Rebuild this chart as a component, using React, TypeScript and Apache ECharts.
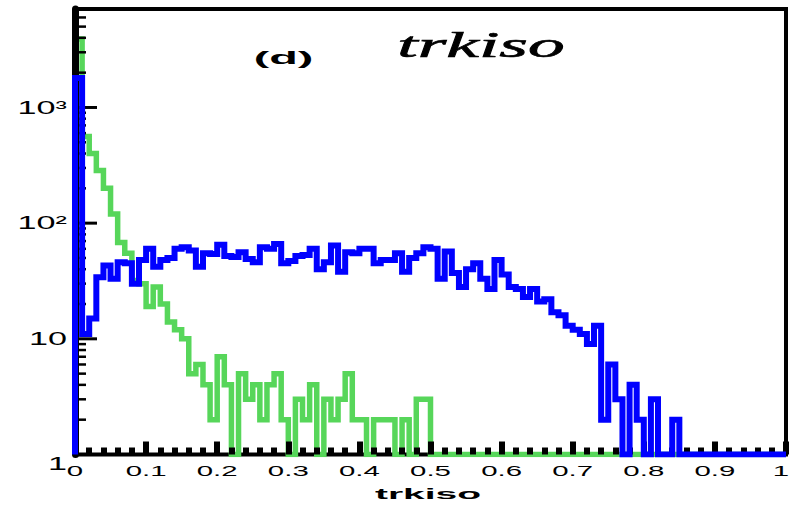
import React, { useEffect, useRef } from "react";
import * as echarts from "echarts";

// ---- data ----
const BIN_WIDTH = 0.01;

const blueCounts = [
  1800, 11, 15, 34, 43, 33, 46, 45, 30, 48,
  60, 42, 48, 50, 60, 62, 58, 42, 55, 54,
  65, 52, 51, 56, 49, 46, 62, 60, 66, 45,
  47, 52, 53, 60, 40, 46, 64, 38, 56, 55,
  60, 60, 45, 48, 48, 55, 38, 50, 55, 62,
  60, 33, 57, 37, 28, 40, 45, 33, 27, 48,
  36, 28, 27, 23, 27, 21, 22, 17, 16, 13,
  12, 11, 9, 13, 2, 6, 3, 0, 4, 2,
  0, 3, 0, 0, 2, 0, 0, 0, 0, 0,
  0, 0, 0, 0, 0, 0, 0, 0, 0, 0,
];

const greenCounts = [
  3900, 560, 400, 285, 200, 120, 68, 55, 32, 30,
  19, 28, 20, 14, 12, 10, 5, 6, 4, 2,
  7, 4, 0, 5, 3, 4, 2, 4, 5, 2,
  0, 3, 2, 4, 1, 3, 2, 3, 5, 2,
  2, 1, 2, 2, 2, 1, 2, 1, 3, 3,
  0, 0, 0, 0, 0, 0, 0, 0, 0, 0,
  0, 0, 0, 0, 0, 0, 0, 0, 0, 0,
  0, 0, 0, 0, 0, 0, 0, 0, 0, 0,
  0, 0, 0, 0, 0, 0, 0, 0, 0, 0,
  0, 0, 0, 0, 0, 0, 0, 0, 0, 0,
];

const xTickValues = [0, 0.1, 0.2, 0.3, 0.4, 0.5, 0.6, 0.7, 0.8, 0.9, 1];
const xTickLabels = ["0", "0.1", "0.2", "0.3", "0.4", "0.5", "0.6", "0.7", "0.8", "0.9", "1"];
const yLabelValues = [1, 10, 100, 1000];
const yLabelTexts = ["1", "10", "10²", "10³"];
const yMajorTicks = [10, 100, 1000];
const yMinorTicks = [
  2, 3, 4, 5, 6, 7, 8, 9,
  20, 30, 40, 50, 60, 70, 80, 90,
  200, 300, 400, 500, 600, 700, 800, 900,
  2000, 3000, 4000, 5000, 6000, 7000,
];
const Y_MIN = 1;
const Y_MAX = 7100;

const titleTag = "(d)";
const titleVar = "trkiso";
const xAxisTitle = "trkiso";

function histPoints(counts: number[]): number[][] {
  const pts: number[][] = [[0, Y_MIN]];
  counts.forEach((c, i) => {
    pts.push([Math.round(i * BIN_WIDTH * 100) / 100, Math.max(c, Y_MIN)]);
  });
  pts.push([counts.length * BIN_WIDTH, Math.max(counts[counts.length - 1], Y_MIN)]);
  return pts;
}

export default function App() {
  const ref = useRef<HTMLDivElement>(null);

  useEffect(() => {
    if (!ref.current) return;
    const chart = echarts.init(ref.current, undefined, { renderer: "svg" });

    const tickSeries = (values: number[], len: number, width: number) => ({
      type: "custom",
      z: 2,
      silent: true,
      data: values.map((v) => [0, v]),
      renderItem: (_params: any, api: any) => {
        const p = api.coord([0, api.value(1)]);
        return {
          type: "line",
          shape: { x1: p[0], y1: p[1], x2: p[0] + len, y2: p[1] },
          style: { stroke: "#000", lineWidth: width },
        };
      },
    });

    chart.setOption({
      animation: false,
      backgroundColor: "#fff",
      grid: {
        left: 75,
        right: 4,
        top: 9,
        bottom: 50.5,
        show: true,
        borderColor: "#000",
        borderWidth: 4,
        backgroundColor: "transparent",
      },
      xAxis: {
        type: "value",
        min: 0,
        max: 1,
        interval: 0.1,
        z: 2,
        axisLine: { show: false },
        axisTick: { show: true, inside: true, length: 13, lineStyle: { color: "#000", width: 6 } },
        minorTick: { show: true, splitNumber: 5, length: 7, lineStyle: { color: "#000", width: 6 } },
        axisLabel: { show: false },
        splitLine: { show: false },
      },
      yAxis: {
        type: "log",
        logBase: 10,
        min: Y_MIN,
        max: Y_MAX,
        z: 2,
        axisLine: { show: true, lineStyle: { color: "#000", width: 7 } },
        axisTick: { show: false },
        minorTick: { show: false },
        axisLabel: { show: false },
        splitLine: { show: false },
      },
      series: [
        {
          type: "line",
          step: "end",
          z: 1,
          symbol: "none",
          clip: true,
          data: histPoints(greenCounts),
          lineStyle: { color: "#57d65a", width: 5.5, join: "miter", cap: "butt" },
        },
        tickSeries(yMinorTicks, 11, 2.5),
        tickSeries(yMajorTicks, 22, 3),
        {
          type: "line",
          step: "end",
          z: 3,
          symbol: "none",
          clip: true,
          data: histPoints(blueCounts),
          lineStyle: { color: "#0000ff", width: 6, join: "miter", cap: "butt" },
        },
        {
          type: "custom",
          z: 4,
          silent: true,
          data: xTickValues.map((v) => [v, Y_MIN]),
          renderItem: (params: any, api: any) => {
            const p = api.coord([api.value(0), Y_MIN]);
            return {
              type: "text",
              x: Math.min(p[0], 781),
              y: p[1] + 17,
              scaleX: 2.1,
              style: {
                text: xTickLabels[params.dataIndex],
                fill: "#000",
                font: '14px "Liberation Sans"',
                align: "center",
                verticalAlign: "middle",
              },
            };
          },
        },
        {
          type: "custom",
          z: 4,
          silent: true,
          data: yLabelValues.map((v) => [0, v]),
          renderItem: (params: any, api: any) => {
            const v = api.value(1);
            const p = api.coord([0, v]);
            return {
              type: "text",
              x: p[0] - 8,
              y: p[1] + (v === Y_MIN ? 9 : 0),
              scaleX: 1.9,
              style: {
                text: yLabelTexts[params.dataIndex],
                fill: "#000",
                font: '18px "Liberation Sans"',
                align: "right",
                verticalAlign: "middle",
              },
            };
          },
        },
      ],
      graphic: [
        {
          type: "text",
          x: 283.5,
          y: 57.5,
          scaleX: 2.6,
          z: 10,
          style: {
            text: titleTag,
            fill: "#000",
            font: 'bold 18px "Liberation Sans"',
            align: "center",
            verticalAlign: "middle",
          },
        },
        {
          type: "text",
          x: 481,
          y: 45,
          scaleX: 2.1,
          z: 10,
          style: {
            text: titleVar,
            fill: "#000",
            font: 'italic 35px "Liberation Serif"',
            align: "center",
            verticalAlign: "middle",
            stroke: "#000",
            lineWidth: 0.6,
          },
        },
        {
          type: "text",
          x: 428,
          y: 494,
          scaleX: 2.6,
          z: 10,
          style: {
            text: xAxisTitle,
            fill: "#000",
            font: 'bold 15px "Liberation Sans"',
            align: "center",
            verticalAlign: "middle",
          },
        },
      ],
    });

    return () => chart.dispose();
  }, []);

  return (
    <div
      ref={ref}
      style={{ position: "fixed", left: 0, top: 0, width: 790, height: 505, background: "#fff" }}
    />
  );
}
